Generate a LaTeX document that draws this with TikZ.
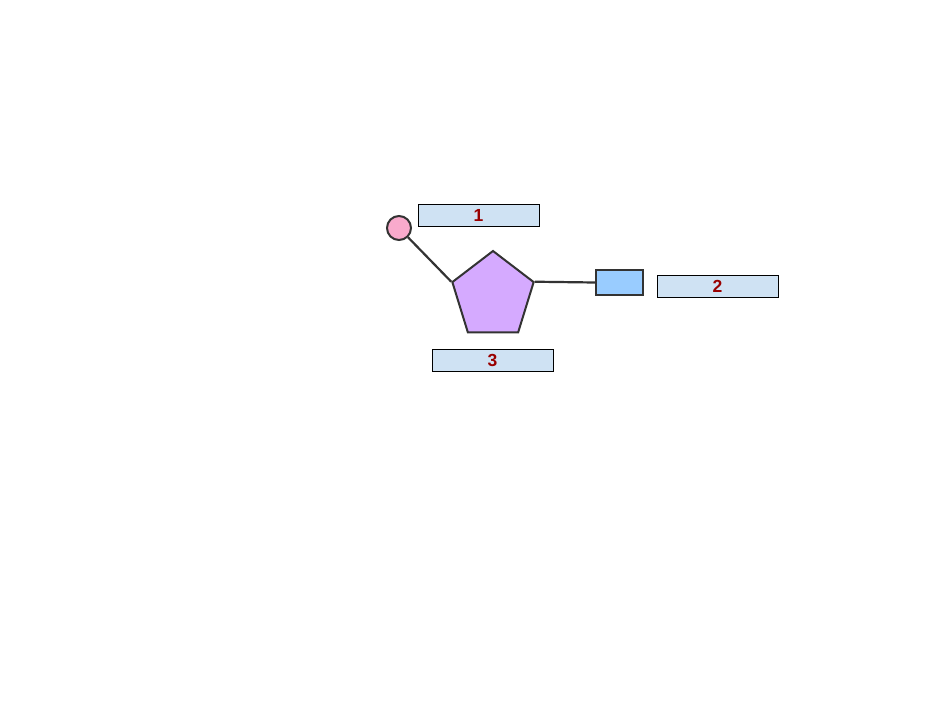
\documentclass[tikz,border=0pt]{standalone}
\usepackage{fontspec}
\setmainfont{Liberation Sans}
\usetikzlibrary{shapes.geometric}
\definecolor{linegray}{HTML}{333333}
\definecolor{sugarfill}{HTML}{D5AAFF}
\definecolor{phosfill}{HTML}{F9AACC}
\definecolor{basefill}{HTML}{99CCFF}
\definecolor{tagfill}{HTML}{CFE2F3}
\definecolor{tagtext}{HTML}{990000}
\begin{document}
\begin{tikzpicture}[x=1pt, y=-1pt,
    part/.style={draw=linegray, line width=2pt},
    bond/.style={draw=linegray, line width=2.2pt},
    tag/.style={draw=black, fill=tagfill, line width=0.9pt,
                minimum width=121pt, minimum height=22pt, inner sep=0pt,
                text=tagtext, font=\fontsize{17.5}{19}\selectfont\bfseries},
]
\useasboundingbox (0,0) rectangle (942,705);

% Parts of the nucleotide
\node[part, fill=sugarfill, regular polygon, regular polygon sides=5,
      minimum size=90pt, inner sep=0pt, xscale=0.95] (sugar) at (493,296) {};
\node[part, fill=phosfill, circle, minimum size=24pt, inner sep=0pt]
      (phosphate) at (399,228) {};
\node[part, fill=basefill, rectangle, minimum width=47pt,
      minimum height=25pt, inner sep=0pt] (base) at (619.5,282.5) {};

% Bonds
\draw[bond] (phosphate) -- (sugar.corner 2);
\draw[bond] (sugar.corner 5) -- (base.west);

% Labels
\node[tag] (tag1) at (478.5,215) {1};
\node[tag] (tag2) at (717.5,286.5) {2};
\node[tag] (tag3) at (492.5,360) {3};

\end{tikzpicture}
\end{document}
